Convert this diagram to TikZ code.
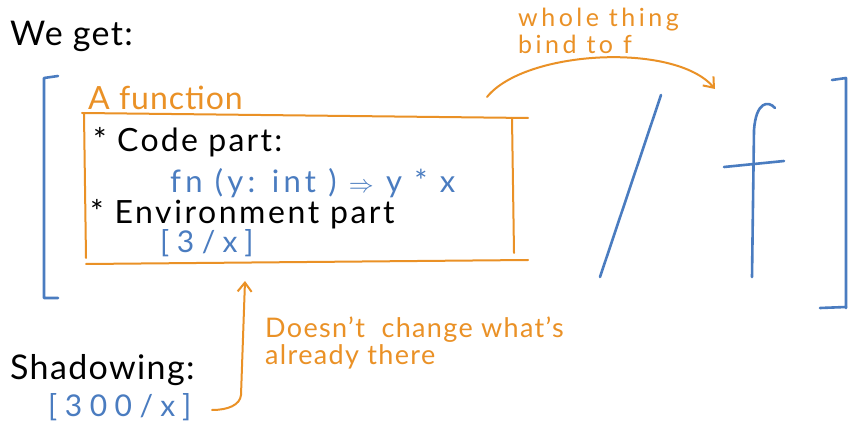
\documentclass[tikz,border=0pt]{standalone}
\usepackage{fontspec}
\setmainfont{Lato}
\usetikzlibrary{arrows.meta}
\definecolor{hblue}{RGB}{74,124,192}
\definecolor{horange}{RGB}{234,145,38}
\newcommand{\handfnt}[2]{\fontsize{#1}{#1}\selectfont\addfontfeature{LetterSpace=#2}}
\begin{document}
\begin{tikzpicture}[x=1pt,y=-1pt,
  txt/.style={anchor=west, inner sep=0pt},
  blk/.style={txt, text=black},
  org/.style={txt, text=horange},
  blu/.style={txt, text=hblue},
  bstroke/.style={draw=hblue, line width=2.6pt, line cap=round, line join=round},
  ostroke/.style={draw=horange, line width=2pt, line cap=round, line join=round},
  oarrow/.style={ostroke, -{Straight Barb[length=9pt,width=14pt]}}
]
\useasboundingbox (0,0) rectangle (848,427);
\fill[white] (0,0) rectangle (848,427);

% headings
\node[blk, font=\handfnt{34}{4}] (weget) at (10,36) {We get:};
\node[org, font=\handfnt{32}{3}] (afun) at (88,98) {A function};

% left blue bracket
\draw[bstroke] (58,76) -- (44,78) -- (44,298) -- (58,298);

% orange box
\draw[ostroke] (82,113) -- (528,118);
\draw[ostroke] (84,114) -- (86,258);
\draw[ostroke] (512,118) -- (514,253);
\draw[ostroke] (86,264) -- (528,260);
\coordinate (boxtop) at (487,97);
\coordinate (boxbot) at (245,281);

% box contents
\node[blk, font=\handfnt{32}{7}] (code) at (93,142) {* Code part:};
\node[blu, font=\handfnt{31}{14}] (fn) at (170,183) {fn (y: int ) $\Rightarrow$ y * x};
\node[blk, font=\handfnt{32}{8}] (env) at (90,214) {* Environment part};
\node[blu, font=\handfnt{30}{25}] (env3) at (160,243) {[3/x]};

% slash and f
\draw[bstroke] (661,95) -- (600,277);
\coordinate (ftop) at (715,89);
\draw[bstroke] (752,277) -- (754,130) .. controls (756,102) and (768,100) .. (775,108);
\draw[bstroke] (724,167) -- (784,161);

% right blue bracket
\draw[bstroke] (832,80) -- (846,78) -- (846,308);
\draw[bstroke] (820,308) -- (846,307);

% whole thing bind to f
\node[org, font=\handfnt{25}{14}] (whole) at (518,20) {whole thing};
\node[org, font=\handfnt{25}{14}] (bind) at (518,44) {bind to f};
\draw[oarrow] (boxtop) .. controls (525,50) and (675,42) .. (ftop);

% shadowing
\node[blk, font=\handfnt{34}{4}] (shadow) at (10,370) {Shadowing:};
\node[blu, font=\handfnt{30}{25}] (env300) at (48,407) {[300/x]};
\node[org, font=\handfnt{27}{5}] (doesnt) at (265,330) {Doesn't\ \ change what's};
\node[org, font=\handfnt{27}{5}] (already) at (265,357) {already there};
\coordinate (shstart) at (212,410);
\draw[oarrow] (shstart) .. controls (228,410) and (240,405) .. (241,395) -- (boxbot);
\end{tikzpicture}
\end{document}
